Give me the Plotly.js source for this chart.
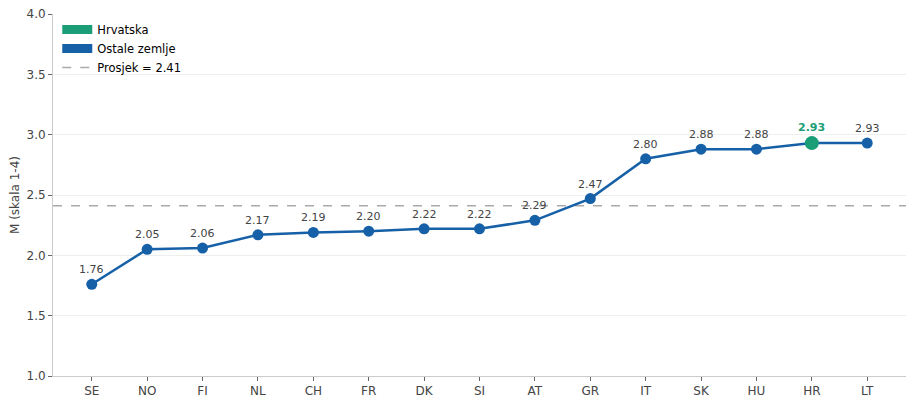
<!DOCTYPE html>
<html><head><meta charset="utf-8">
<script src="https://cdn.plot.ly/plotly-3.0.1.min.js"></script>
<style>body{margin:0;background:#fff}#c{width:915px;height:406px}</style>
</head><body><div id="c"></div>
<script>
const countries = ["SE","NO","FI","NL","CH","FR","DK","SI","AT","GR","IT","SK","HU","HR","LT"];
const values = [1.76,2.05,2.06,2.17,2.19,2.20,2.22,2.22,2.29,2.47,2.80,2.88,2.88,2.93,2.93];
const average = 2.41;
const highlight = "HR";
const BLUE = "#1660a7", GREEN = "#1b9e77";
const isHL = countries.map(c => c === highlight);

const traces = [
  {x: countries, y: values, type: "scatter", mode: "lines+markers", showlegend: false,
   line: {color: BLUE, width: 2.5},
   marker: {color: isHL.map(h => h ? GREEN : BLUE), size: isHL.map(h => h ? 14 : 11), opacity: 1,
            line: {width: 0}},
   hoverinfo: "x+y"},
  {x: [null], y: [null], type: "scatter", mode: "lines", name: "Hrvatska", line: {color: GREEN, width: 9}},
  {x: [null], y: [null], type: "scatter", mode: "lines", name: "Ostale zemlje", line: {color: BLUE, width: 9}},
  {x: [null], y: [null], type: "scatter", mode: "lines", name: "Prosjek = " + average.toFixed(2), line: {color: "#aaaaaa", width: 1.5, dash: "dash"}}
];

const annotations = countries.map((c, i) => ({
  x: c, y: values[i], xref: "x", yref: "y", text: isHL[i] ? "<b>" + values[i].toFixed(2) + "</b>" : values[i].toFixed(2),
  showarrow: false, yanchor: "bottom", yshift: isHL[i] ? 7 : 6,
  font: {size: 11, color: isHL[i] ? GREEN : "#444444"}
}));

const layout = {
  width: 915, height: 406,
  margin: {l: 53, r: 9, t: 14, b: 30},
  paper_bgcolor: "#fff", plot_bgcolor: "#fff",
  font: {family: "DejaVu Sans, sans-serif", color: "#444"},
  xaxis: {type: "category", range: [-0.7, 14.7], showgrid: false, zeroline: false,
          showline: true, linecolor: "#cccccc", linewidth: 1, ticks: "outside", ticklen: 4, tickcolor: "#666",
          tickfont: {size: 12, color: "#444"}},
  yaxis: {range: [1.0, 4.0], dtick: 0.5, tickformat: ".1f", showgrid: true, gridcolor: "#eeeeee", gridwidth: 1,
          zeroline: false, showline: true, linecolor: "#cccccc", linewidth: 1, ticks: "outside", ticklen: 4, tickcolor: "#666",
          tickfont: {size: 12, color: "#444"},
          title: {text: "M (skala 1-4)", font: {size: 12, color: "#444"}, standoff: 4}},
  shapes: [{type: "line", xref: "paper", x0: 0, x1: 1, yref: "y", y0: average, y1: average,
            line: {color: "#aaaaaa", width: 1.5, dash: "dash"}, layer: "below"}],
  annotations: annotations,
  legend: {x: 0.005, y: 0.997, xanchor: "left", yanchor: "top", bgcolor: "rgba(0,0,0,0)",
           font: {size: 11.5, color: "#000"}, tracegroupgap: 0, itemwidth: 30},
  hovermode: "closest"
};
Plotly.newPlot("c", traces, layout, {displayModeBar: false});
</script></body></html>
